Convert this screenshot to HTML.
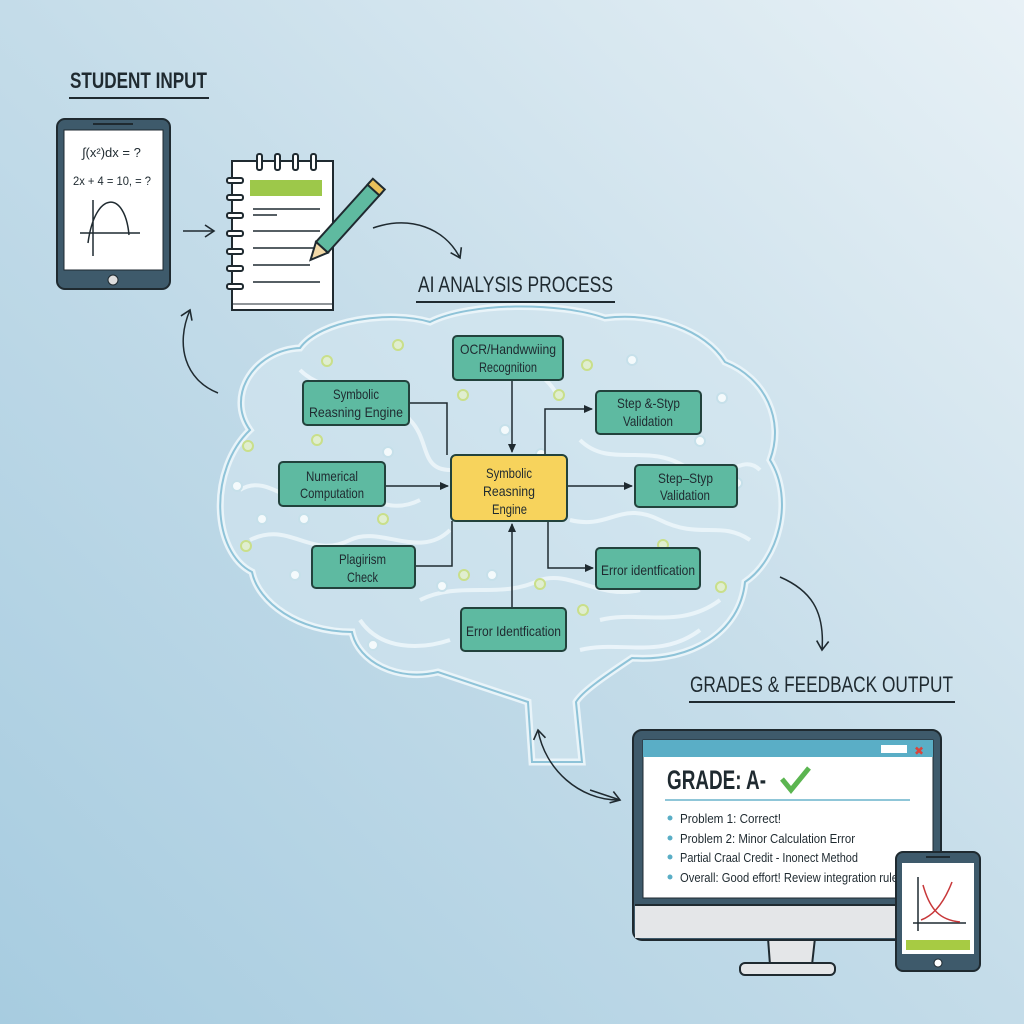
<!DOCTYPE html>
<html><head><meta charset="utf-8"><style>
html,body{margin:0;padding:0;width:1024px;height:1024px;overflow:hidden}
svg{display:block}
text{font-family:"Liberation Sans",sans-serif;fill:#1f2a30}
</style></head><body>
<svg width="1024" height="1024" viewBox="0 0 1024 1024" xmlns="http://www.w3.org/2000/svg">
<defs>
<linearGradient id="bg" x1="1" y1="0" x2="0" y2="1">
<stop offset="0" stop-color="#e8f1f6"/><stop offset="0.5" stop-color="#c4dce9"/><stop offset="1" stop-color="#a7cce0"/>
</linearGradient>
<marker id="ah" markerWidth="10" markerHeight="10" refX="8" refY="5" orient="auto" markerUnits="userSpaceOnUse"><path d="M0,1 L9,5 L0,9 z" fill="#1f2a30"/></marker>
<marker id="oa" markerWidth="14" markerHeight="14" refX="10" refY="7" orient="auto" markerUnits="userSpaceOnUse"><path d="M1,1 L10,7 L1,13" fill="none" stroke="#1f2a30" stroke-width="1.6"/></marker>
</defs>
<rect width="1024" height="1024" fill="url(#bg)"/>

<!-- Student input -->
<text x="70" y="88" font-size="22" font-weight="bold" textLength="137" lengthAdjust="spacingAndGlyphs">STUDENT INPUT</text>
<line x1="69" y1="98" x2="209" y2="98" stroke="#1f2a30" stroke-width="2"/>
<rect x="57" y="119" width="113" height="170" rx="8" fill="#3e5a6b" stroke="#1f2a30" stroke-width="2"/>
<rect x="64" y="130" width="99" height="140" fill="#fff" stroke="#1f2a30"/>
<line x1="93" y1="124" x2="133" y2="124" stroke="#1f2a30" stroke-width="2"/>
<circle cx="113" cy="280" r="5" fill="#ddd" stroke="#1f2a30"/>
<text x="82" y="157" font-size="13">∫(x²)dx = ?</text>
<text x="73" y="185" font-size="12" textLength="78" lengthAdjust="spacingAndGlyphs">2x + 4 = 10, = ?</text>
<path d="M93 200 V256 M80 233 H140 M88 243 C95 190 125 190 129 235" fill="none" stroke="#1f2a30" stroke-width="1.5"/>
<line x1="183" y1="231" x2="214" y2="231" stroke="#1f2a30" stroke-width="1.5" marker-end="url(#oa)"/>

<rect x="232" y="161" width="101" height="149" fill="#fff" stroke="#1f2a30" stroke-width="2"/>
<line x1="233" y1="304" x2="333" y2="304" stroke="#1f2a30"/>
<g stroke="#1f2a30" stroke-width="2" fill="#fff">
<rect x="257" y="154" width="5" height="16" rx="2"/><rect x="275" y="154" width="5" height="16" rx="2"/><rect x="293" y="154" width="5" height="16" rx="2"/><rect x="311" y="154" width="5" height="16" rx="2"/>
<rect x="227" y="178" width="16" height="5" rx="2"/><rect x="227" y="195" width="16" height="5" rx="2"/><rect x="227" y="213" width="16" height="5" rx="2"/><rect x="227" y="231" width="16" height="5" rx="2"/><rect x="227" y="249" width="16" height="5" rx="2"/><rect x="227" y="266" width="16" height="5" rx="2"/><rect x="227" y="284" width="16" height="5" rx="2"/>
</g>
<rect x="250" y="180" width="72" height="16" fill="#9dc84a"/>
<g stroke="#1f2a30" stroke-width="1.5"><line x1="253" y1="209" x2="320" y2="209"/><line x1="253" y1="215" x2="277" y2="215"/><line x1="253" y1="231" x2="320" y2="231"/><line x1="253" y1="248" x2="320" y2="248"/><line x1="253" y1="265" x2="310" y2="265"/><line x1="253" y1="282" x2="320" y2="282"/></g>
<g transform="rotate(42 342 225)"><rect x="334" y="175" width="16" height="80" fill="#5fbaa0" stroke="#1f2a30" stroke-width="2"/><rect x="334" y="170" width="16" height="8" fill="#e8c05a" stroke="#1f2a30" stroke-width="2"/><path d="M334 255 L342 272 L350 255 z" fill="#f1d9a8" stroke="#1f2a30" stroke-width="2"/></g>
<path d="M373 228 C410 215 445 228 460 258" fill="none" stroke="#1f2a30" stroke-width="1.5" marker-end="url(#oa)"/>
<path d="M218 393 C185 380 175 345 190 310" fill="none" stroke="#1f2a30" stroke-width="1.5" marker-end="url(#oa)"/>

<text x="418" y="292" font-size="22" textLength="195" lengthAdjust="spacingAndGlyphs">AI ANALYSIS PROCESS</text>
<line x1="416" y1="302" x2="615" y2="302" stroke="#1f2a30" stroke-width="2"/>

<!-- Brain -->
<path d="M250 430 C225 395 255 350 300 348 C320 320 390 310 430 322 C470 302 560 302 605 318 C655 312 705 330 725 362 C765 378 785 420 770 460 C795 500 778 560 745 582 C740 632 692 662 632 658 C602 678 582 692 576 702 L582 762 L532 762 L528 702 C498 692 468 682 438 672 C398 682 358 662 352 632 C298 632 258 602 252 572 C212 552 208 470 250 430 Z" fill="#d5e8f0" fill-opacity="0.55" stroke="#e9f4f9" stroke-width="7"/>
<path d="M250 430 C225 395 255 350 300 348 C320 320 390 310 430 322 C470 302 560 302 605 318 C655 312 705 330 725 362 C765 378 785 420 770 460 C795 500 778 560 745 582 C740 632 692 662 632 658 C602 678 582 692 576 702 L582 762 L532 762 L528 702 C498 692 468 682 438 672 C398 682 358 662 352 632 C298 632 258 602 252 572 C212 552 208 470 250 430 Z" fill="none" stroke="#8ec3d8" stroke-width="2"/>
<g fill="none" stroke="#eef7fb" stroke-width="4" opacity="0.85">
<path d="M240 490 C270 470 300 520 330 500 C360 480 380 520 420 500"/>
<path d="M250 540 C290 520 310 560 350 540 C380 525 420 560 450 530"/>
<path d="M300 370 C330 400 380 380 410 420 C430 440 420 470 450 470"/>
<path d="M580 440 C610 470 650 440 690 470 C720 490 740 450 760 470"/>
<path d="M570 520 C610 530 620 500 660 520 C700 540 720 520 750 540"/>
<path d="M420 600 C460 580 500 600 540 580 C570 570 600 600 640 590"/>
<path d="M500 340 C520 380 540 360 560 400"/>
<path d="M360 620 C380 650 420 650 450 640"/>
<path d="M600 620 C640 610 680 630 720 600"/>
<path d="M580 650 C620 640 660 660 700 630"/>
</g>
<g fill="#e0eed0" stroke="#c9df8a" stroke-width="2">
<circle cx="398" cy="345" r="5"/><circle cx="327" cy="361" r="5"/><circle cx="246" cy="546" r="5"/><circle cx="383" cy="519" r="5"/><circle cx="463" cy="395" r="5"/><circle cx="525" cy="375" r="5"/><circle cx="559" cy="395" r="5"/><circle cx="587" cy="365" r="5"/><circle cx="464" cy="575" r="5"/><circle cx="540" cy="584" r="5"/><circle cx="583" cy="610" r="5"/><circle cx="663" cy="545" r="5"/><circle cx="721" cy="587" r="5"/><circle cx="248" cy="446" r="5"/><circle cx="317" cy="440" r="5"/>
</g>
<g fill="#f4fafc" stroke="#c6e0ea" stroke-width="2">
<circle cx="541" cy="454" r="5"/><circle cx="632" cy="360" r="5"/><circle cx="505" cy="430" r="5"/><circle cx="722" cy="398" r="5"/><circle cx="700" cy="441" r="5"/><circle cx="737" cy="483" r="5"/><circle cx="262" cy="519" r="5"/><circle cx="237" cy="486" r="5"/><circle cx="304" cy="519" r="5"/><circle cx="295" cy="575" r="5"/><circle cx="442" cy="586" r="5"/><circle cx="373" cy="645" r="5"/><circle cx="492" cy="575" r="5"/><circle cx="388" cy="452" r="5"/>
</g>

<!-- connectors -->
<g stroke="#1f2a30" stroke-width="1.5" fill="none">
<path d="M409 403 H447 V455"/>
<path d="M512 380 V452" marker-end="url(#ah)"/>
<path d="M545 455 V409 H592" marker-end="url(#ah)"/>
<path d="M385 486 H448" marker-end="url(#ah)"/>
<path d="M567 486 H632" marker-end="url(#ah)"/>
<path d="M415 566 H452 V521"/>
<path d="M548 521 V568 H593" marker-end="url(#ah)"/>
<path d="M512 608 V524" marker-end="url(#ah)"/>
</g>

<!-- nodes -->
<g stroke="#22423c" stroke-width="2" fill="#5ebaa1">
<rect x="453" y="336" width="110" height="44" rx="4"/>
<rect x="303" y="381" width="106" height="44" rx="4"/>
<rect x="596" y="391" width="105" height="43" rx="4"/>
<rect x="279" y="462" width="106" height="44" rx="4"/>
<rect x="635" y="465" width="102" height="42" rx="4"/>
<rect x="312" y="546" width="103" height="42" rx="4"/>
<rect x="596" y="548" width="104" height="41" rx="4"/>
<rect x="461" y="608" width="105" height="43" rx="4"/>
<rect x="451" y="455" width="116" height="66" rx="5" fill="#f7d35c"/>
</g>
<g font-size="14">
<text x="460" y="354" textLength="96" lengthAdjust="spacingAndGlyphs">OCR/Handwwiing</text><text x="479" y="372" textLength="58" lengthAdjust="spacingAndGlyphs">Recognition</text>
<text x="333" y="399" textLength="46" lengthAdjust="spacingAndGlyphs">Symbolic</text><text x="309" y="417" textLength="94" lengthAdjust="spacingAndGlyphs">Reasning Engine</text>
<text x="617" y="408" textLength="63" lengthAdjust="spacingAndGlyphs">Step &amp;-Styp</text><text x="623" y="426" textLength="50" lengthAdjust="spacingAndGlyphs">Validation</text>
<text x="306" y="481" textLength="52" lengthAdjust="spacingAndGlyphs">Numerical</text><text x="300" y="498" textLength="64" lengthAdjust="spacingAndGlyphs">Computation</text>
<text x="486" y="478" textLength="46" lengthAdjust="spacingAndGlyphs">Symbolic</text><text x="483" y="496" textLength="52" lengthAdjust="spacingAndGlyphs">Reasning</text><text x="492" y="514" textLength="35" lengthAdjust="spacingAndGlyphs">Engine</text>
<text x="658" y="483" textLength="55" lengthAdjust="spacingAndGlyphs">Step–Styp</text><text x="660" y="500" textLength="50" lengthAdjust="spacingAndGlyphs">Validation</text>
<text x="339" y="564" textLength="47" lengthAdjust="spacingAndGlyphs">Plagirism</text><text x="347" y="582" textLength="31" lengthAdjust="spacingAndGlyphs">Check</text>
<text x="601" y="575" textLength="94" lengthAdjust="spacingAndGlyphs">Error identfication</text>
<text x="466" y="636" textLength="95" lengthAdjust="spacingAndGlyphs">Error Identfication</text>
</g>

<path d="M780 577 C810 590 825 610 822 650" fill="none" stroke="#1f2a30" stroke-width="1.5" marker-end="url(#oa)"/>
<path d="M618 800 C580 800 545 770 538 730" fill="none" stroke="#1f2a30" stroke-width="1.5" marker-end="url(#oa)"/>
<path d="M590 790 L620 800" fill="none" stroke="#1f2a30" stroke-width="1.5" marker-end="url(#oa)"/>

<text x="690" y="692" font-size="22" textLength="263" lengthAdjust="spacingAndGlyphs">GRADES &amp; FEEDBACK OUTPUT</text>
<line x1="689" y1="702" x2="955" y2="702" stroke="#1f2a30" stroke-width="2"/>

<!-- monitor -->
<path d="M758 938 L768 938 L770 965 L812 965 L815 938 Z" fill="#e4e6e8" stroke="#1f2a30" stroke-width="2"/>
<rect x="740" y="963" width="95" height="12" rx="5" fill="#e4e6e8" stroke="#1f2a30" stroke-width="2"/>
<rect x="633" y="730" width="308" height="210" rx="9" fill="#3e5a6b" stroke="#1f2a30" stroke-width="2"/>
<rect x="635" y="905" width="304" height="33" fill="#e4e6e8"/>
<path d="M635 905 H939" stroke="#1f2a30" stroke-width="2"/>
<rect x="643" y="740" width="290" height="158" fill="#fff" stroke="#1f2a30"/>
<rect x="643" y="740" width="290" height="17" fill="#5aaec6"/>
<rect x="881" y="745" width="26" height="8" fill="#fff"/>
<text x="914" y="755" font-size="12" style="fill:#d9443b">✖</text>
<text x="667" y="789" font-size="27" font-weight="bold" textLength="99" lengthAdjust="spacingAndGlyphs">GRADE: A-</text>
<path d="M782 779 L791 790 L809 768" fill="none" stroke="#5bb550" stroke-width="5"/>
<line x1="665" y1="800" x2="910" y2="800" stroke="#8fc6d8" stroke-width="2"/>
<g fill="#5aaec6"><circle cx="670" cy="818" r="2.5"/><circle cx="670" cy="838" r="2.5"/><circle cx="670" cy="857" r="2.5"/><circle cx="670" cy="877" r="2.5"/></g>
<g font-size="13"><text x="680" y="823" textLength="101" lengthAdjust="spacingAndGlyphs">Problem 1: Correct!</text><text x="680" y="843" textLength="175" lengthAdjust="spacingAndGlyphs">Problem 2: Minor Calculation Error</text><text x="680" y="862" textLength="178" lengthAdjust="spacingAndGlyphs">Partial Craal Credit - Inonect Method</text><text x="680" y="882" textLength="218" lengthAdjust="spacingAndGlyphs">Overall: Good effort! Review integration rule</text></g>
<!-- tablet -->
<rect x="896" y="852" width="84" height="119" rx="7" fill="#3e5a6b" stroke="#1f2a30" stroke-width="2"/>
<rect x="902" y="863" width="72" height="91" fill="#fff"/>
<line x1="926" y1="857" x2="950" y2="857" stroke="#1f2a30" stroke-width="2"/>
<circle cx="938" cy="963" r="4" fill="#fff" stroke="#1f2a30"/>
<path d="M918 931 V877 M913 923 H966" stroke="#1f2a30" stroke-width="1.5" fill="none"/>
<path d="M923 885 C930 910 940 920 960 922 M921 920 C935 915 945 900 952 882" stroke="#c8383a" stroke-width="1.5" fill="none"/>
<rect x="906" y="940" width="64" height="10" fill="#a7cb43"/>
</svg>
</body></html>
